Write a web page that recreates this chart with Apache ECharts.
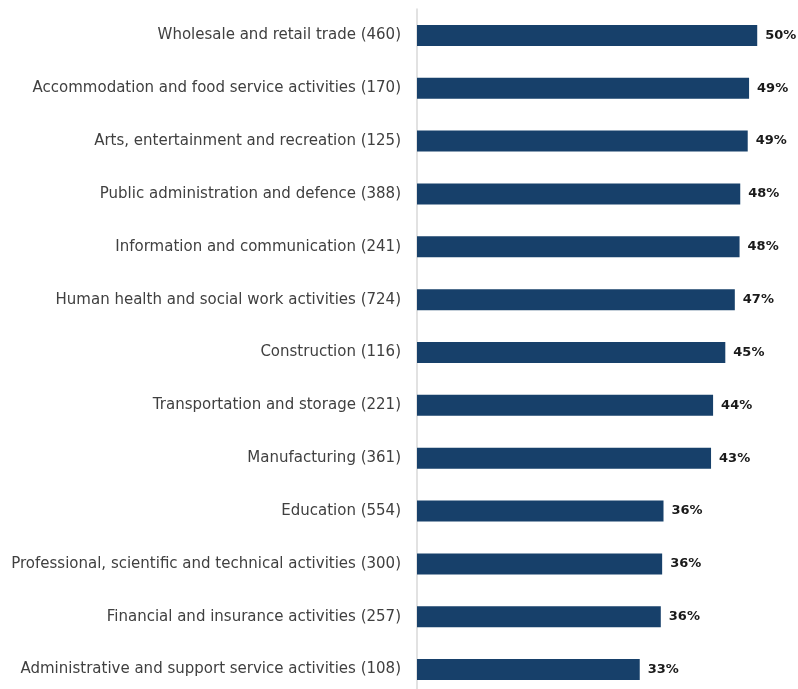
<!DOCTYPE html>
<html>
<head>
<meta charset="utf-8">
<script src="https://cdn.jsdelivr.net/npm/echarts@6/dist/echarts.min.js"></script>
<style>
  html, body { margin: 0; padding: 0; background: #ffffff; overflow: hidden; }
  #chart { width: 798px; height: 689px; }
</style>
</head>
<body>
<div id="chart"></div>
<script>
// Sectors, top to bottom, with respondent counts in brackets
const sectors = [
  'Wholesale and retail trade (460)',
  'Accommodation and food service activities (170)',
  'Arts, entertainment and recreation (125)',
  'Public administration and defence (388)',
  'Information and communication (241)',
  'Human health and social work activities (724)',
  'Construction (116)',
  'Transportation and storage (221)',
  'Manufacturing (361)',
  'Education (554)',
  'Professional, scientific and technical activities (300)',
  'Financial and insurance activities (257)',
  'Administrative and support service activities (108)'
];

// Share of respondents per sector (%)
const shares = [50.1, 48.9, 48.7, 47.6, 47.5, 46.8, 45.4, 43.6, 43.3, 36.3, 36.1, 35.9, 32.8];

// Value axis range
const axisMin = 0;
const axisMax = 55;

const chart = echarts.init(document.getElementById('chart'), null, { renderer: 'canvas' });

chart.setOption({
  animation: false,
  backgroundColor: '#ffffff',
  grid: {
    left: 417,
    top: 9,
    width: 373.5,
    height: 687,
    containLabel: false,
    outerBoundsMode: 'none'
  },
  xAxis: {
    type: 'value',
    min: axisMin,
    max: axisMax,
    show: false
  },
  yAxis: {
    type: 'category',
    inverse: true,
    data: sectors,
    axisLine: { show: true, lineStyle: { color: '#d9d9d9', width: 1.5 } },
    axisTick: { show: false },
    axisLabel: {
      margin: 16,
      color: '#404040',
      fontFamily: '"DejaVu Sans", sans-serif',
      fontSize: 15
    }
  },
  series: [{
    type: 'bar',
    data: shares,
    barWidth: 21,
    itemStyle: { color: '#17406a' },
    label: {
      show: true,
      position: 'right',
      distance: 8,
      formatter: p => Math.round(p.value) + '%',
      color: '#1a1a1a',
      fontFamily: '"DejaVu Sans", sans-serif',
      fontWeight: 'bold',
      fontSize: 13
    }
  }]
});
</script>
</body>
</html>
